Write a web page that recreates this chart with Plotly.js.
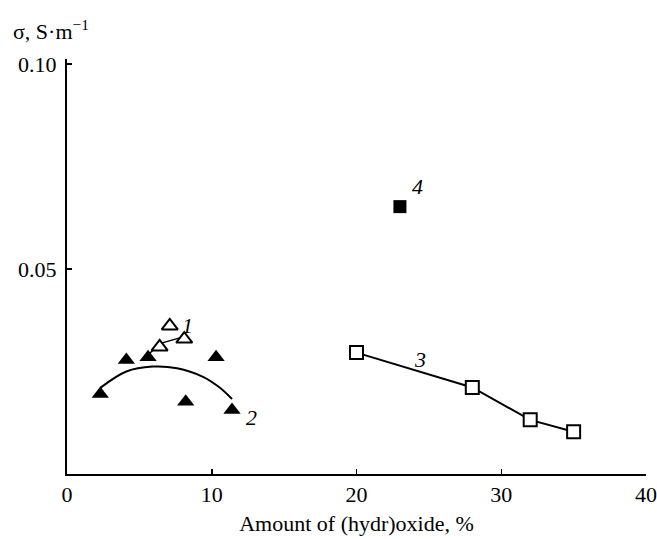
<!DOCTYPE html>
<html>
<head>
<meta charset="utf-8">
<script src="https://cdn.plot.ly/plotly-3.0.1.min.js"></script>
<style>html,body{margin:0;padding:0;background:#fff;}#chart{width:657px;height:539px;}</style>
</head>
<body>
<div id="chart"></div>
<script>
// Series 1: open triangles
var s1x = [7.1, 6.4, 8.1];
var s1y = [0.0361, 0.0310, 0.0329];
// Series 1 line
var l1x = [5.6, 6.4, 8.1];
var l1y = [0.0290, 0.0318, 0.0335];
// Series 2: filled triangles
var s2x = [2.3, 4.1, 5.6, 8.2, 10.3, 11.4];
var s2y = [0.0195, 0.0278, 0.0285, 0.0176, 0.0285, 0.0156];
// Series 2 fitted curve
var l2x = [2.3, 4.1, 5.9, 7.6, 9.4, 10.5, 11.4];
var l2y = [0.0210, 0.0250, 0.0262, 0.0258, 0.0237, 0.0212, 0.0183];
// Series 3: open squares
var s3x = [20.0, 28.0, 32.0, 35.0];
var s3y = [0.0296, 0.0211, 0.0132, 0.0103];
// Series 4: filled square
var s4x = [23.0];
var s4y = [0.0652];

var xTicks = [0, 10, 20, 30, 40];
var xTickText = ['0', '10', '20', '30', '40'];
var yTicks = [0.05, 0.10];
var yTickText = ['0.05', '0.10'];

var serif = 'Liberation Serif';

var traces = [
  {x: l2x, y: l2y, mode: 'lines', line: {color: '#000', width: 2, shape: 'spline'}, hoverinfo: 'skip'},
  {x: l1x, y: l1y, mode: 'lines', line: {color: '#000', width: 1.5}, hoverinfo: 'skip'},
  {x: s3x, y: s3y, mode: 'lines+markers', line: {color: '#000', width: 2},
   marker: {symbol: 'square', size: 13, color: '#fff', line: {color: '#000', width: 2}}},
  {x: s2x, y: s2y, mode: 'markers',
   marker: {symbol: 'triangle-up', size: 15, color: '#000', line: {color: '#000', width: 0}}},
  {x: s1x, y: s1y, mode: 'markers',
   marker: {symbol: 'triangle-up', size: 14, color: '#fff', line: {color: '#000', width: 2}}},
  {x: s4x, y: s4y, mode: 'markers',
   marker: {symbol: 'square', size: 13, color: '#000', line: {color: '#000', width: 0}}}
];

var labelFont = {family: serif, size: 22, color: '#000'};

var layout = {
  width: 657, height: 539,
  margin: {l: 67, r: 11, t: 59, b: 65, pad: 0},
  paper_bgcolor: '#fff', plot_bgcolor: '#fff',
  showlegend: false,
  font: {family: serif, size: 22, color: '#000'},
  xaxis: {
    range: [0, 40], tickvals: xTicks, ticktext: xTickText,
    ticks: 'inside', ticklen: 5, tickwidth: 1.5, tickcolor: '#000',
    showline: true, linecolor: '#000', linewidth: 2, showgrid: false, zeroline: false,
    tickfont: {family: serif, size: 22, color: '#000'}, ticklabelstandoff: 0,
    title: {text: 'Amount of (hydr)oxide, %', font: {family: serif, size: 22, color: '#000'}, standoff: 9}
  },
  yaxis: {
    range: [0, 0.1012], tickvals: yTicks, ticktext: yTickText,
    ticks: 'inside', ticklen: 5, tickwidth: 1.5, tickcolor: '#000',
    showline: true, linecolor: '#000', linewidth: 2, showgrid: false, zeroline: false,
    tickfont: {family: serif, size: 22, color: '#000'}, ticklabelstandoff: 4
  },
  annotations: [
    {xref: 'paper', yref: 'paper', x: -0.097, y: 1.07, xanchor: 'left', yanchor: 'middle',
     text: 'σ, S·m<sup>−1</sup>', showarrow: false, font: {family: serif, size: 22, color: '#000'}},
    {xref: 'x', yref: 'y', x: 8.33, y: 0.0363, text: '<i>1</i>', showarrow: false, xanchor: 'center', font: labelFont},
    {xref: 'x', yref: 'y', x: 12.76, y: 0.0139, text: '<i>2</i>', showarrow: false, xanchor: 'center', font: labelFont},
    {xref: 'x', yref: 'y', x: 24.4, y: 0.0280, text: '<i>3</i>', showarrow: false, xanchor: 'center', font: labelFont},
    {xref: 'x', yref: 'y', x: 24.2, y: 0.0702, text: '<i>4</i>', showarrow: false, xanchor: 'center', font: labelFont}
  ]
};

Plotly.newPlot('chart', traces, layout, {displayModeBar: false, staticPlot: true});
</script>
</body>
</html>
